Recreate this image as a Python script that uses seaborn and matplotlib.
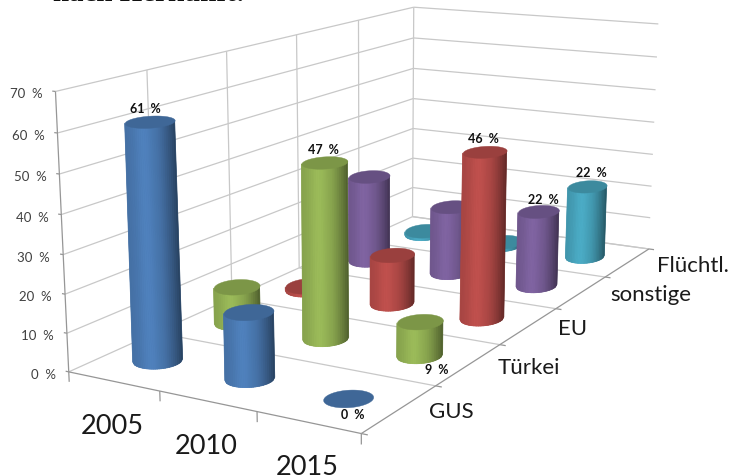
import numpy as np
import matplotlib
matplotlib.use("Agg")
import matplotlib.pyplot as plt
from mpl_toolkits.mplot3d import proj3d
from mpl_toolkits.mplot3d.art3d import Poly3DCollection, Line3DCollection
import seaborn as sns

# ---------- data ----------
years = ["2005", "2010", "2015"]
series = ["GUS", "Türkei", "EU", "sonstige", "Flüchtl."]
gus = [61, 17, 0]
tuerkei = [10, 47, 9]
eu = [1, 14, 46]
sonstige = [26, 20, 22]
fluechtl = [1, 1, 22]
value_ticks = [0, 10, 20, 30, 40, 50, 60, 70]
series_colors = ["#4F81BD", "#9BBB59", "#C0504D", "#8064A2", "#4BACC6"]
labelled = {(0, 0): "61  %", (1, 1): "47  %", (2, 2): "46  %", (2, 3): "22  %",
            (2, 4): "22  %", (2, 1): "9  %", (2, 0): "0  %"}

# ---------- style ----------
label_offset = {(0, 0): (-4, 14), (1, 1): (-1, 13), (2, 2): (-1, 14), (2, 3): (5, 12),
                (2, 4): (4, 14), (2, 1): (17, -47), (2, 0): (5, -16)}
half_width_px = [25, 23, 22, 20.5, 19.5]
GRID = "#c8c8c8"
AXIS = "#969696"
TICK_TXT = "#404040"
W, H = 729, 477

sns.set_style("white")
palette = sns.color_palette(series_colors)
plt.rcParams["font.family"] = ["Lato", "DejaVu Sans"]


def calibrate():
    """Camera for the chart's box: world (category, series, value) -> image pixels."""
    pairs = [((0, 0, 0), (69, 372)), ((1, 0, 0), (160, 393)), ((2, 0, 0), (257, 413)),
             ((3, 0, 0), (361, 434)), ((3, 1, 0), (437, 387)), ((3, 2, 0), (497, 346)),
             ((3, 3, 0), (557, 309)), ((3, 4, 0), (607, 278)), ((3, 5, 0), (648, 250)),
             ((0, 5, 0), (412, 218)), ((0, 0, 70), (55, 93)), ((0, 1, 70), (147, 71)),
             ((0, 2, 70), (227, 52)), ((0, 3, 70), (296, 36)), ((0, 4, 70), (359, 21)),
             ((0, 5, 70), (414, 8)), ((3, 5, 70), (658, 25)), ((0, 0, 30), (63, 255))]
    rows = []
    for (x, y, z), (u, v) in pairs:
        rows.append([x, y, z, 1, 0, 0, 0, 0, -u * x, -u * y, -u * z, -u])
        rows.append([0, 0, 0, 0, x, y, z, 1, -v * x, -v * y, -v * z, -v])
    _, _, vt = np.linalg.svd(np.array(rows, float))
    P = vt[-1].reshape(3, 4)
    return P / P[2, 3]


P = calibrate()
M = np.array([P[0], P[1], [0.1, 1.0, 0.0, 0.0], P[2]])

fig = plt.figure(figsize=(W / 100, H / 100), dpi=100, facecolor="white")
side = W / H
ax = fig.add_axes([0, -(side - 1) / 2, 1, side], projection="3d", computed_zorder=False)
ax.set_axis_off()
ax.patch.set_visible(False)
ax.set_autoscale_on(False)
ax.get_proj = lambda: M
pad = (W - H) / 2
ax.viewLim.intervalx = (0, W)
ax.viewLim.intervaly = (H + pad, -pad)


def label3d(x, y, z, s, dx, dy, **kw):
    u, v, _ = proj3d.proj_transform(x, y, z, M)
    ax.text2D(float(u) + dx, float(v) - dy, s, transform=ax.transData, **kw)


grid_segs, axis_segs = [], []
nx, ny = len(years), len(series)
zmax = value_ticks[-1]
for v in value_ticks:
    grid_segs.append([(0, 0, v), (0, ny, v)])
    grid_segs.append([(0, ny, v), (nx, ny, v)])
    axis_segs.append([(0, 0, v), (-0.035, 0, v)])
    label3d(0, 0, v, f"{v}  %", -13, -2, ha="right", va="center",
            fontsize=9.5, color=TICK_TXT, zorder=2)
for j in range(ny + 1):
    (grid_segs if j else axis_segs).append([(0, j, 0), (0, j, zmax)])
    (grid_segs if j else axis_segs).append([(0, j, 0), (nx, j, 0)])
    axis_segs.append([(nx, j, 0), (nx + 0.06, j, 0)])
axis_segs.append([(nx, 0, 0), (nx, ny, 0)])
for i in range(nx + 1):
    axis_segs.append([(i, 0, 0), (i, 0, -2.6)])
    if i < nx:
        label3d(i + 0.5, 0, 0, years[i], -1, -44, ha="center", va="center",
                fontsize=19.5, color="#1a1a1a", zorder=2)
for j, name in enumerate(series):
    label3d(nx, j + 0.5, 0, name, 29, -2, ha="left", va="center",
            fontsize=16, color="#1a1a1a", zorder=2)
ax.add_collection3d(Line3DCollection(grid_segs, colors=GRID, linewidths=0.9, zorder=1), autolim=False)
ax.add_collection3d(Line3DCollection(axis_segs, colors=AXIS, linewidths=0.9, zorder=1.5), autolim=False)


def shade(color, f):
    return tuple(np.clip(np.array(color) * f, 0, 1))


def ring(cx, cy, z, A, th):
    """World points on plane z that appear as a flat, slightly tilted ellipse on screen."""
    c = P @ np.array([cx, cy, z, 1.0])
    cu, cv = c[0] / c[2], c[1] / c[2]
    B = A * (0.35 - 0.0018 * z)
    u = cu + A * np.cos(th)
    v = cv + B * np.sin(th) - 0.06 * A * np.cos(th)
    Hz = np.c_[P[:, 0], P[:, 1], P[:, 2] * z + P[:, 3]]
    w = np.linalg.solve(Hz, np.vstack([u, v, np.ones_like(u)]))
    return w[0] / w[2], w[1] / w[2]


def cylinder(i, j, value, color, zo):
    cx, cy = i + 0.5, j + 0.5
    A = half_width_px[j]
    if value > 0:
        th = np.linspace(np.pi, 0, 91)
        bx, by = ring(cx, cy, 0, A, th)
        tx, ty = ring(cx, cy, value, A, th)
        outline = list(zip(bx, by, np.zeros(len(th)))) + list(zip(tx[::-1], ty[::-1], np.full(len(th), value)))
        ax.add_collection3d(Poly3DCollection([outline], facecolors=[shade(color, 0.86)],
                                             edgecolors="none", zorder=zo), autolim=False)
        # strips of equal width on screen
        n = 26
        s_edges = np.linspace(0.0, 1.0, n + 1)
        th_s = np.arccos(2 * s_edges - 1)
        bsx, bsy = ring(cx, cy, 0, A, th_s)
        tsx, tsy = ring(cx, cy, value, A, th_s)
        verts, cols = [], []
        for k in range(n):
            verts.append([(bsx[k], bsy[k], 0), (bsx[k + 1], bsy[k + 1], 0),
                          (tsx[k + 1], tsy[k + 1], value), (tsx[k], tsy[k], value)])
            s = (s_edges[k] + s_edges[k + 1]) / 2
            f = 0.86 + 0.14 * np.exp(-((s - 0.36) / 0.22) ** 2) - 0.36 * max(0.0, (s - 0.62) / 0.38) ** 1.4
            cols.append(shade(color, f))
        ax.add_collection3d(Poly3DCollection(verts, facecolors=cols, edgecolors=cols,
                                             linewidths=0.5, zorder=zo + 0.1), autolim=False)
    th = np.linspace(0, 2 * np.pi, 121)[:-1]
    cx3, cy3 = ring(cx, cy, value, A, th)
    capc = shade(color, 0.8)
    ax.add_collection3d(Poly3DCollection([list(zip(cx3, cy3, np.full(len(th), value)))],
                                         facecolors=[capc], edgecolors=[capc],
                                         linewidths=0.3, zorder=zo + 0.5), autolim=False)


table = [gus, tuerkei, eu, sonstige, fluechtl]
for j in range(ny - 1, -1, -1):
    for i in range(nx - 1, -1, -1):
        cylinder(i, j, table[j][i], palette[j], 10 + (ny - j) * 10 + (nx - i))

for (i, j), txt in labelled.items():
    dx, dy = label_offset[(i, j)]
    label3d(i + 0.5, j + 0.5, table[j][i], txt, dx, dy, ha="center", va="center",
            fontsize=9, fontweight="bold", color="#111111", zorder=200)

fig.text(53 / W, 1 - 1 / H, "nach Herkunft:", family="Liberation Serif", fontweight="bold",
         fontsize=20.8, color="#111111", ha="left", va="baseline")

fig.savefig("out.png", dpi=100, facecolor="white")
